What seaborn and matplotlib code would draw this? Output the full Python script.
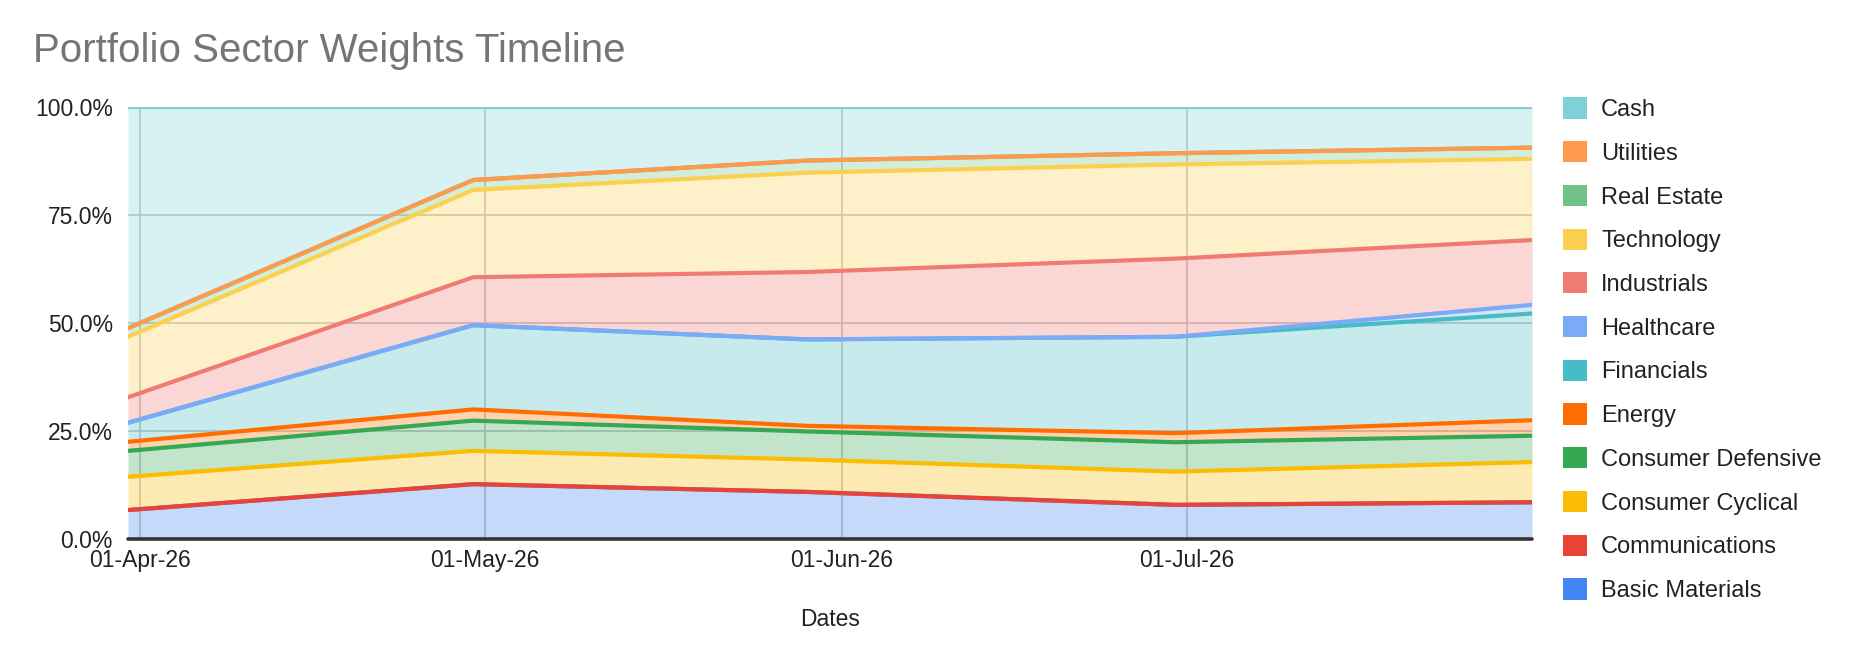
import pandas as pd
import matplotlib
matplotlib.use("Agg")
import matplotlib.pyplot as plt
import matplotlib.dates as mdates
from matplotlib.patches import Patch
from matplotlib.ticker import FuncFormatter
import seaborn as sns

# month-end dates of the portfolio snapshots
dates = ["2026-03-31", "2026-04-30", "2026-05-29", "2026-06-30", "2026-07-31"]
tick_dates = ["2026-04-01", "2026-05-01", "2026-06-01", "2026-07-01"]

sectors = ["Basic Materials", "Communications", "Consumer Cyclical", "Consumer Defensive",
           "Energy", "Financials", "Healthcare", "Industrials", "Technology",
           "Real Estate", "Utilities", "Cash"]

# weights in percent
basic_materials = [6.7, 12.7, 10.9, 7.9, 8.5]
communications = [0.0, 0.0, 0.0, 0.0, 0.0]
consumer_cyclical = [7.7, 7.7, 7.5, 7.7, 9.3]
consumer_defensive = [6.0, 7.0, 6.5, 6.8, 6.1]
energy = [2.1, 2.6, 1.3, 2.1, 3.6]
financials = [4.4, 19.5, 20.0, 22.3, 24.7]
healthcare = [0.0, 0.0, 0.0, 0.0, 2.0]
industrials = [5.9, 11.1, 15.6, 18.1, 15.0]
technology = [14.0, 20.2, 23.0, 21.8, 18.8]
real_estate = [2.0, 2.3, 2.8, 2.6, 2.6]
utilities = [0.0, 0.0, 0.0, 0.0, 0.0]
cash = [51.2, 16.9, 12.4, 10.7, 9.4]

colors = ["#4285F4", "#EA4335", "#FBBC04", "#34A853", "#FF6D01", "#46BDC6",
          "#7BAAF7", "#F07B72", "#FCD04F", "#71C287", "#FF994D", "#7ED1D7"]

wide = pd.DataFrame({
    "Basic Materials": basic_materials,
    "Communications": communications,
    "Consumer Cyclical": consumer_cyclical,
    "Consumer Defensive": consumer_defensive,
    "Energy": energy,
    "Financials": financials,
    "Healthcare": healthcare,
    "Industrials": industrials,
    "Technology": technology,
    "Real Estate": real_estate,
    "Utilities": utilities,
    "Cash": cash,
}, index=pd.to_datetime(dates))
tops = wide.cumsum(axis=1)
bottoms = tops - wide

long = tops.reset_index(names="date").melt(id_vars="date", var_name="sector", value_name="top")

sns.set_theme(style="white")
plt.rcParams["font.family"] = ["Liberation Sans", "DejaVu Sans"]

fig = plt.figure(figsize=(18.6, 6.66), dpi=100)
ax = fig.add_axes([128 / 1860, 1 - 539 / 666, 1404 / 1860, 432 / 666])

# stacked fills
for s, c in zip(sectors, colors):
    ax.fill_between(wide.index, bottoms[s], tops[s], color=c, alpha=0.3, lw=0, zorder=2)

# lines on top of each band
sns.lineplot(data=long, x="date", y="top", hue="sector", hue_order=sectors,
             palette=colors, lw=3.0, legend=False, sort=False, ax=ax, zorder=3)

ax.set_xlim(wide.index[0], wide.index[-1])
ax.set_ylim(0, 100)
ax.set_yticks([0, 25, 50, 75, 100])
ax.yaxis.set_major_formatter(FuncFormatter(lambda v, p: f"{v:.1f}%"))
ax.set_xticks(pd.to_datetime(tick_dates))
ax.xaxis.set_major_formatter(mdates.DateFormatter("%d-%b-%y"))
ax.grid(True, color="#c4c4c4", lw=1.2, zorder=1)
ax.set_axisbelow(True)
for sp in ax.spines.values():
    sp.set_visible(False)
ax.axhline(0, color="#333333", lw=2.6, zorder=4, clip_on=False)

ax.tick_params(axis="both", length=0, labelsize=16.5, colors="#222222")
ax.tick_params(axis="y", pad=11)
ax.tick_params(axis="x", pad=20)
for lab in ax.get_xticklabels():
    lab.set_verticalalignment("baseline")
ax.set_ylabel("")
ax.set_xlabel("Dates", fontsize=16.5, color="#222222", labelpad=26)

fig.text(33 / 1860, 1 - 51 / 666, "Portfolio Sector Weights Timeline",
         fontsize=29, color="#757575", ha="left", va="center")

handles = [Patch(facecolor=c, edgecolor="none") for c in colors][::-1]
leg = ax.legend(handles, sectors[::-1], loc="upper left",
                bbox_to_anchor=(1554 / 1860, 1 - 88 / 666), bbox_transform=fig.transFigure,
                frameon=False, fontsize=17, handlelength=1.0, handleheight=1.0,
                handletextpad=0.6, labelspacing=0.85, borderaxespad=0)
for t in leg.get_texts():
    t.set_color("#222222")

fig.savefig("out.png", dpi=100, facecolor="white")
